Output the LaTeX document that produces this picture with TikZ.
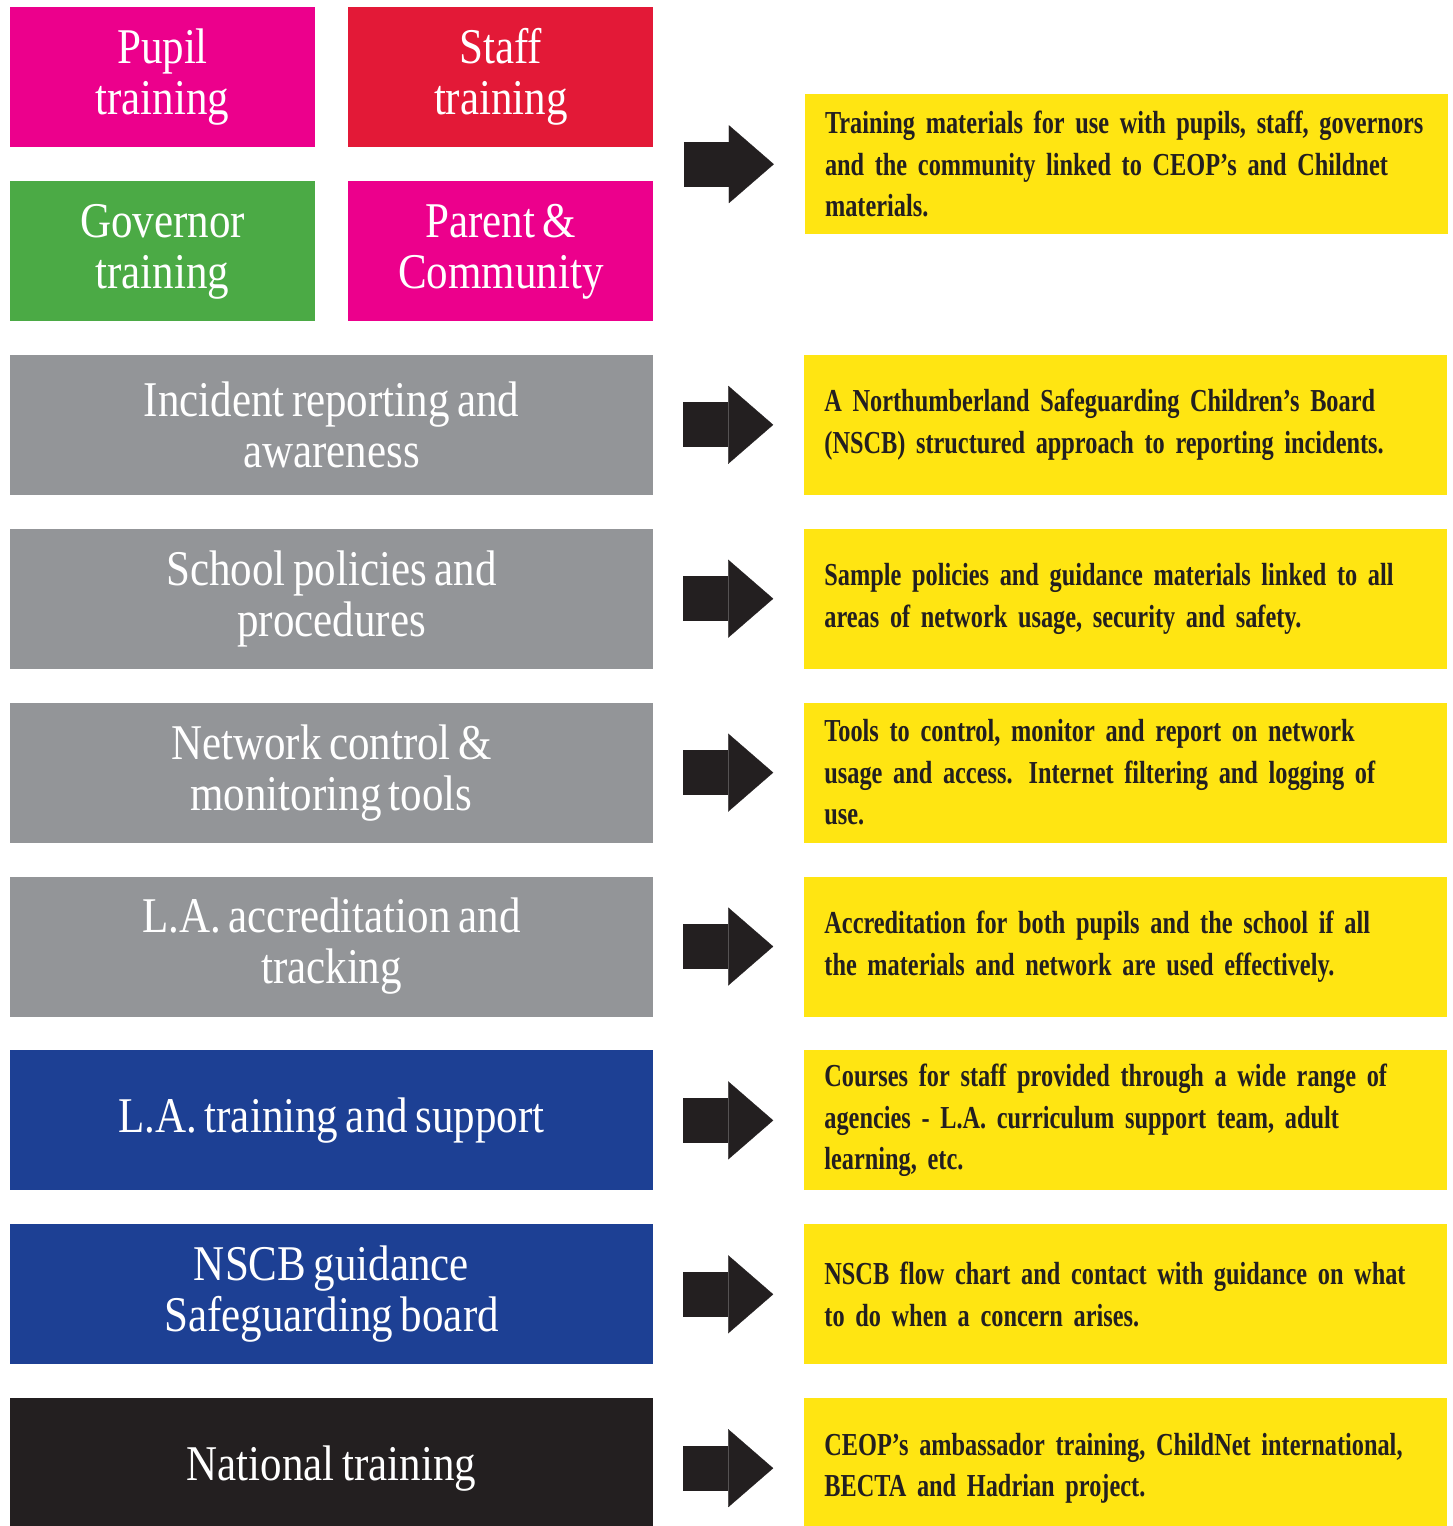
\documentclass[tikz,border=0pt]{standalone}
\usepackage{fontspec}
\newfontfamily\boxfont{Liberation Serif}[FakeStretch=0.86, WordSpace=0.7]
\newfontfamily\notefont{Liberation Serif}[FakeStretch=0.76, WordSpace=0.6]
\usetikzlibrary{arrows.meta,fit,calc,positioning}
\hyphenpenalty=10000
\definecolor{pupilpink}{HTML}{EC008C}
\definecolor{staffred}{HTML}{E31937}
\definecolor{govgreen}{HTML}{4BAA45}
\definecolor{midgray}{HTML}{939598}
\definecolor{lablue}{HTML}{1D4094}
\definecolor{inkblack}{HTML}{231F20}
\definecolor{noteyellow}{HTML}{FFE512}
\tikzset{lbox/.style={rectangle, inner sep=0pt, minimum height=140pt, text=white, align=center, font=\boxfont\fontsize{50}{51}\selectfont}}
\tikzset{bigarrow/.style={draw=inkblack, line width=45pt, -{Triangle[length=45pt, width=78pt, line width=0.1pt]}, shorten <=30pt, shorten >=31pt}}
\tikzstyle{half}=[lbox, minimum width=305pt]
\tikzstyle{wide}=[lbox, minimum width=643pt]
\tikzstyle{note}=[rectangle, fill=noteyellow, inner xsep=20pt, inner ysep=0pt, minimum height=140pt, text width=603pt, align=left, text=inkblack, font=\notefont\bfseries\fontsize{32}{41.5}\selectfont]

\begin{document}
\begin{tikzpicture}[x=1pt, y=-1pt, node distance=33.5pt]
\useasboundingbox (0,0) rectangle (1452,1526);
% the four training boxes
\node[half, fill=pupilpink] (P) at (162.5,77) {Pupil\\training};
\node[half, fill=staffred, right=33pt of P] (S) {Staff\\training};
\node[half, fill=govgreen, below=34pt of P] (G) {Governor\\training};
\node[half, fill=pupilpink, below=34pt of S] (C) {Parent \&\\Community};
\node[fit=(P)(S)(G)(C), inner sep=0pt] (T) {};

% left column
\node[wide, fill=midgray, below=33pt of G.south west, anchor=north west] (I) {Incident reporting and\\awareness};
\node[wide, fill=midgray, below=of I] (Sch) {School policies and\\procedures};
\node[wide, fill=midgray, below=of Sch] (N) {Network control \&\\monitoring tools};
\node[wide, fill=midgray, below=of N] (Acc) {L.A. accreditation and\\tracking};
\node[wide, fill=lablue, below=of Acc] (LA) {L.A. training and support};
\node[wide, fill=lablue, below=of LA] (B) {NSCB guidance\\Safeguarding board};
\node[wide, fill=inkblack, below=of B] (Nat) {National training};

% right column
\node[note, right=151pt of T] (D0) {Training materials for use with pupils, staff, governors\\and the community linked to CEOP’s and Childnet\\materials.};
\node[note, right=151pt of I] (D1) {A Northumberland Safeguarding Children’s Board\\(NSCB) structured approach to reporting incidents.};
\node[note, right=151pt of Sch] (D2) {Sample policies and guidance materials linked to all\\areas of network usage, security and safety.};
\node[note, right=151pt of N] (D3) {Tools to control, monitor and report on network\\usage and access. Internet filtering and logging of\\use.};
\node[note, right=151pt of Acc] (D4) {Accreditation for both pupils and the school if all\\the materials and network are used effectively.};
\node[note, right=151pt of LA] (D5) {Courses for staff provided through a wide range of\\agencies - L.A. curriculum support team, adult\\learning, etc.};
\node[note, right=151pt of B] (D6) {NSCB flow chart and contact with guidance on what\\to do when a concern arises.};
\node[note, right=151pt of Nat] (D7) {CEOP’s ambassador training, ChildNet international,\\BECTA and Hadrian project.};

% arrows
\draw[bigarrow] (T.east) -- (D0.west);
\foreach \a/\b in {I/D1, Sch/D2, N/D3, Acc/D4, LA/D5, B/D6, Nat/D7}
  \draw[bigarrow] (\a.east) -- (\b.west);
\end{tikzpicture}
\end{document}
